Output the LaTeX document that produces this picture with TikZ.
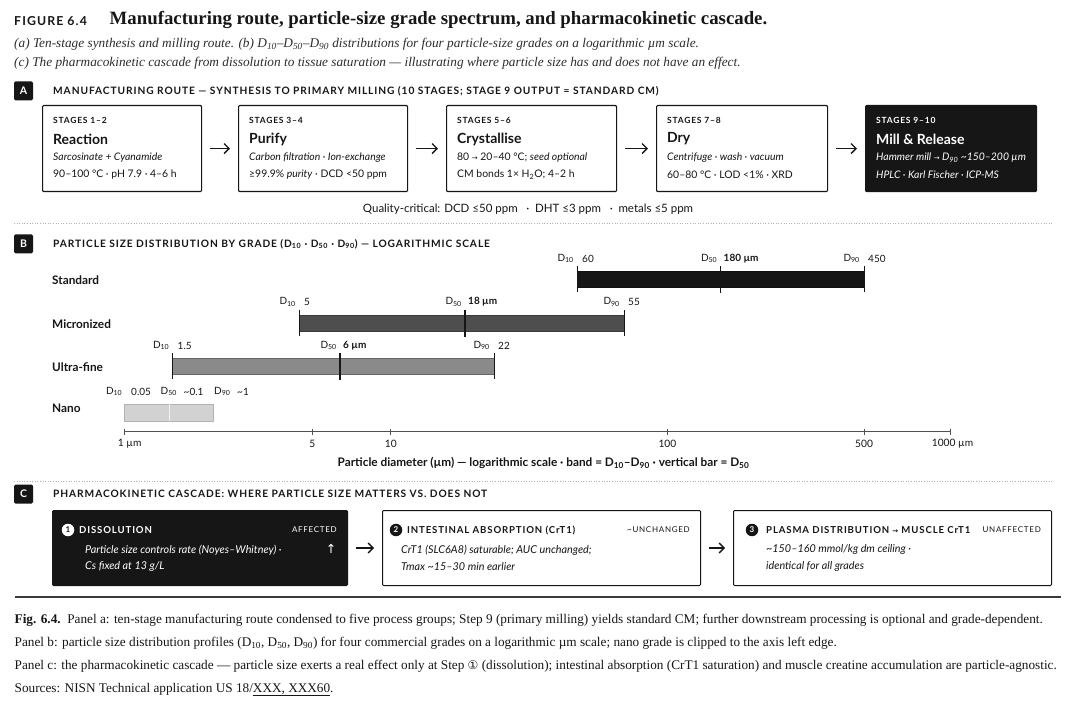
\documentclass[tikz,border=0pt]{standalone}
\usepackage{fontspec}
\setmainfont{Lato}
\newfontfamily\spacedfont{Lato}[Ligatures=TeX, LetterSpace=9]
\newfontfamily\seriffont{Liberation Serif}[Ligatures=TeX]
\newfontfamily\symfont{DejaVu Sans}
\usetikzlibrary{arrows.meta,positioning}

\definecolor{ink}{HTML}{161616}
\definecolor{microgray}{HTML}{4E4E4E}
\definecolor{ultragray}{HTML}{8A8A8A}
\definecolor{nanogray}{HTML}{D2D2D2}

\newcommand\dsub[1]{D\textsubscript{#1}}
\newcommand\smallarrow{{\symfont\fontsize{7}{7}\selectfont →}}

\begin{document}
\begin{tikzpicture}[
    x=1pt, y=-1pt, line join=round,
    badge/.style={fill=ink, text=white, font=\bfseries\fontsize{10.5}{10}\selectfont,
      minimum size=19pt, inner sep=0pt, rounded corners=1.5pt},
    panelhead/.style={anchor=west, inner sep=0pt, text=ink,
      font=\spacedfont\bfseries\fontsize{10.2}{11}\selectfont},
    stagebox/.style={anchor=north west, draw=ink, line width=1.1pt, fill=white,
      minimum height=86pt, inner sep=0pt, rounded corners=1pt},
    millbox/.style={stagebox, fill=ink},
    stagetag/.style={anchor=west, inner sep=0pt, font=\spacedfont\bfseries\fontsize{8.5}{9}\selectfont},
    stagetitle/.style={anchor=west, inner sep=0pt, font=\bfseries\fontsize{14}{15}\selectfont},
    stageline/.style={anchor=west, inner sep=0pt, font=\fontsize{10.4}{11}\selectfont},
    flow/.style={draw=ink, line width=1.3pt, -{Straight Barb[length=5pt, width=10pt]},
      shorten <=8pt, shorten >=8pt},
    sepline/.style={draw=black!30, line width=0.9pt, dash pattern=on 1pt off 1.6pt},
    gradename/.style={anchor=west, inner sep=0pt, text=ink, font=\bfseries\fontsize{11.8}{12}\selectfont},
    dlab/.style={inner sep=0pt, text=ink, font=\fontsize{10}{10}\selectfont},
    dtick/.style={draw=ink, line width=0.8pt},
    dmid/.style={draw=ink, line width=1.8pt},
    pkbox/.style={anchor=north west, draw=ink, line width=1pt, fill=white,
      minimum height=75pt, inner sep=0pt, rounded corners=1pt},
    pkdark/.style={pkbox, fill=ink},
    stepdot/.style={circle, inner sep=0pt, minimum size=12.5pt, font=\bfseries\fontsize{8}{8}\selectfont},
    pktitle/.style={anchor=west, inner sep=0pt, font=\spacedfont\bfseries\fontsize{9.6}{10}\selectfont},
    pkstate/.style={anchor=east, inner sep=0pt, font=\spacedfont\fontsize{8}{9}\selectfont},
    pkline/.style={anchor=west, inner sep=0pt, font=\itshape\fontsize{10.8}{11}\selectfont},
    subtitle/.style={anchor=west, inner sep=0pt, text=ink!90, font=\seriffont\itshape\fontsize{13.3}{13}\selectfont},
    caption/.style={anchor=west, inner sep=0pt, text=ink, font=\seriffont\fontsize{13.25}{13}\selectfont}]

  \fill [white] (0,0) rectangle (1074,708);
  \useasboundingbox (0,0) rectangle (1074,708);

  % title block
  \node [anchor=west, inner sep=0pt, text=ink, font=\spacedfont\bfseries\fontsize{12.3}{12}\selectfont]
    (figno) at (14,21) {FIGURE 6.4};
  \node [anchor=west, inner sep=0pt, text=ink, font=\seriffont\bfseries\fontsize{18.8}{18}\selectfont]
    (figtitle) at (109.5,19.5) {Manufacturing route, particle-size grade spectrum, and pharmacokinetic cascade.};
  \node [subtitle] (sub-ab) at (14,44) {(a) Ten-stage synthesis and milling route. (b) \dsub{10}--\dsub{50}--\dsub{90} distributions for four particle-size grades on a logarithmic µm scale.};
  \node [subtitle] (sub-c) at (14,63.5) {(c) The pharmacokinetic cascade from dissolution to tissue saturation --- illustrating where particle size has and does not have an effect.};

  % panel A -- manufacturing route
  \node [badge] (pa) at (23.5,91) {A};
  \node [panelhead] (pa-head) at (53,91) {MANUFACTURING ROUTE --- SYNTHESIS TO PRIMARY MILLING (10 STAGES; STAGE 9 OUTPUT = STANDARD CM)};

  \foreach \n/\xa/\xb/\bs/\tc/\tg/\ttl/\la/\lb [evaluate={\w=\xb-\xa;}] in {
    1/42/201/stagebox/ink/{STAGES 1--2}/{Reaction}/{\itshape Sarcosinate + Cyanamide}/{90--100 °C · pH 7.9 · 4--6 h},
    2/238/407/stagebox/ink/{STAGES 3--4}/{Purify}/{\itshape Carbon filtration · Ion-exchange}/{≥99.9\% \textit{purity} · DCD <50 ppm},
    3/446/616/stagebox/ink/{STAGES 5--6}/{Crystallise}/{80 \smallarrow{} 20--40 °C; \textit{seed optional}}/{CM bonds 1× H\textsubscript{2}O; 4--2 h},
    4/656/827/stagebox/ink/{STAGES 7--8}/{Dry}/{\itshape Centrifuge · wash · vacuum}/{60--80 °C · LOD <1\% · XRD},
    5/865/1036/millbox/white/{STAGES 9--10}/{Mill \& Release}/{\itshape Hammer mill \smallarrow{} \dsub{90} \textasciitilde150--200 µm}/{\itshape HPLC · Karl Fischer · ICP-MS}}{
    \node [\bs, minimum width=\w pt] (s\n) at (\xa,105) {};
    \node [stagetag, text=\tc] (s\n-tag) at ([xshift=11pt, yshift=-15pt]s\n.north west) {\tg};
    \node [stagetitle, text=\tc] (s\n-title) at ([xshift=11pt, yshift=-34pt]s\n.north west) {\ttl};
    \node [stageline, text=\tc] (s\n-a) at ([xshift=11pt, yshift=-53pt]s\n.north west) {\la};
    \node [stageline, text=\tc] (s\n-b) at ([xshift=11pt, yshift=-69.5pt]s\n.north west) {\lb};
  }
  \foreach \a [count=\b from 2] in {1,...,4}
    \draw [flow] (s\a) -- (s\b);

  \node [inner sep=0pt, text=ink, font=\fontsize{11.5}{12}\selectfont] (qc) at (528,209)
    {Quality-critical: DCD ≤50 ppm \enspace·\enspace DHT ≤3 ppm \enspace·\enspace metals ≤5 ppm};

  \draw [sepline] (14,223) -- (1053,223);

  % panel B -- particle size grades
  \node [badge] (pb) at (23.5,244) {B};
  \node [panelhead] (pb-head) at (53,244) {PARTICLE SIZE DISTRIBUTION BY GRADE (\dsub{10} · \dsub{50} · \dsub{90}) --- LOGARITHMIC SCALE};

  \foreach \g/\yy/\xa/\xm/\xb/\shade/\va/\vm/\vb in {
    Standard/279.5/577/720.5/864/ink/60/180 µm/450,
    Micronized/323/299/465/624/microgray/5/18 µm/55,
    Ultra-fine/366.5/172.5/340/494/ultragray/1.5/6 µm/22}{
    \node [gradename] (row-\g) at (52,\yy+1) {\g};
    \path [fill=\shade, draw=\shade!75!black, line width=0.6pt] (\xa,\yy-8) rectangle (\xb,\yy+8);
    \draw [dtick] (\xa,\yy-13) -- (\xa,\yy+13);
    \draw [dtick] (\xb,\yy-13) -- (\xb,\yy+13);
    \draw [dmid] (\xm,\yy-13) -- (\xm,\yy+14);
    \node [dlab, anchor=east] (\g-d10) at (\xa-3,\yy-21) {\dsub{10}};
    \node [dlab, anchor=west] (\g-v10) at (\xa+5,\yy-21) {\va};
    \node [dlab, anchor=east] (\g-d50) at (\xm-3,\yy-21) {\dsub{50}};
    \node [dlab, anchor=west, font=\bfseries\fontsize{10}{10}\selectfont] (\g-v50) at (\xm+3,\yy-21) {\vm};
    \node [dlab, anchor=east] (\g-d90) at (\xb-4,\yy-21) {\dsub{90}};
    \node [dlab, anchor=west] (\g-v90) at (\xb+4,\yy-21) {\vb};
  }

  % nano grade, clipped at the axis edge
  \node [gradename] (row-Nano) at (52,408) {Nano};
  \path [fill=nanogray, draw=nanogray!85!black, line width=0.5pt] (124.7,404) rectangle (213,421);
  \draw [white!70!nanogray, line width=1pt] (169.8,404) -- (169.8,421);
  \node [dlab, anchor=east] (nano-d10) at (122.5,391.5) {\dsub{10}};
  \node [dlab, anchor=west] (nano-v10) at (131,391.5) {0.05};
  \node [dlab, anchor=west] (nano-d50) at (160.5,391.5) {\dsub{50}};
  \node [dlab, anchor=west] (nano-v50) at (183.5,391.5) {\textasciitilde0.1};
  \node [dlab, anchor=west] (nano-d90) at (214,391.5) {\dsub{90}};
  \node [dlab, anchor=west] (nano-v90) at (237,391.5) {\textasciitilde1};

  % axis
  \draw [draw=ink!75, line width=1.4pt] (124.7,431.5) -- (950.5,431.5);
  \foreach \v/\px/\dx [count=\k] in {{1 µm}/124.7/5, 5/312.3/0, 10/390.8/0, 100/667.4/0, 500/864.1/0, {1000 µm}/950.5/2}{
    \draw [draw=ink!75, line width=0.8pt] (\px,429) -- (\px,435);
    \node [dlab, font=\fontsize{10.2}{10}\selectfont] (axl\k) at (\px+\dx,444) {\v};
  }
  \node [inner sep=0pt, text=ink, font=\bfseries\fontsize{11.8}{11}\selectfont] (axcap) at (543.5,463)
    {Particle diameter (µm) --- logarithmic scale · band = \dsub{10}--\dsub{90} · vertical bar = \dsub{50}};

  \draw [sepline] (14,481) -- (1053,481);

  % panel C -- pharmacokinetic cascade
  \node [badge] (pc) at (23.5,494) {C};
  \node [panelhead] (pc-head) at (53,494) {PHARMACOKINETIC CASCADE: WHERE PARTICLE SIZE MATTERS VS. DOES NOT};

  \foreach \n/\xa/\xb/\bs/\tc/\dc/\nc/\cx/\tx/\lx/\ttl/\st/\la/\lb [evaluate={\w=\xb-\xa;}] in {
    1/52/347/pkdark/white/white/ink/16/27/33/{DISSOLUTION}/{AFFECTED}/{Particle size controls rate (Noyes--Whitney) ·}/{Cs fixed at 13 g/L},
    2/382/700/pkbox/ink/ink/white/14/25/19/{INTESTINAL ABSORPTION (CrT1)}/{\textasciitilde UNCHANGED}/{CrT1 (SLC6A8) saturable; AUC unchanged;}/{Tmax \textasciitilde15--30 min earlier},
    3/733/1051/pkbox/ink/ink/white/19/33/33/{PLASMA DISTRIBUTION \smallarrow{} MUSCLE CrT1}/{UNAFFECTED}/{\textasciitilde150--160 mmol/kg dm ceiling ·}/{identical for all grades}}{
    \node [\bs, minimum width=\w pt] (pk\n) at (\xa,510) {};
    \node [stepdot, fill=\dc, text=\nc] (pk\n-dot) at ([xshift=\cx pt, yshift=-20pt]pk\n.north west) {\n};
    \node [pktitle, text=\tc] (pk\n-title) at ([xshift=\tx pt, yshift=-20pt]pk\n.north west) {\ttl};
    \node [pkstate, text=\tc] (pk\n-state) at ([xshift=-11pt, yshift=-20pt]pk\n.north east) {\st};
    \node [pkline, text=\tc] (pk\n-a) at ([xshift=\lx pt, yshift=-40pt]pk\n.north west) {\la};
    \node [pkline, text=\tc] (pk\n-b) at ([xshift=\lx pt, yshift=-57pt]pk\n.north west) {\lb};
  }
  \node [inner sep=0pt, text=white, font=\symfont\fontsize{12.5}{12}\selectfont] (pk1-up) at (331,549) {↑};
  \foreach \a [count=\b from 2] in {1,2}
    \draw [flow] (pk\a) -- (pk\b);

  % caption
  \draw [draw=ink!85, line width=1.3pt] (15,597) -- (1061,597);
  \node [caption] (cap-a) at (14.5,620) {\textbf{Fig. 6.4.}\enspace Panel a: ten-stage manufacturing route condensed to five process groups; Step 9 (primary milling) yields standard CM; further downstream processing is optional and grade-dependent.};
  \node [caption] (cap-b) at (14.5,643.5) {Panel b: particle size distribution profiles (\dsub{10}, \dsub{50}, \dsub{90}) for four commercial grades on a logarithmic µm scale; nano grade is clipped to the axis left edge.};
  \node [caption] (cap-c) at (14.5,666.5) {Panel c: the pharmacokinetic cascade --- particle size exerts a real effect only at Step {\symfont\fontsize{12}{12}\selectfont ①} (dissolution); intestinal absorption (CrT1 saturation) and muscle creatine accumulation are particle-agnostic.};
  \node [caption] (cap-d) at (14.5,689.5) {Sources: NISN Technical application US 18/\underline{XXX, XXX60}.};
\end{tikzpicture}
\end{document}
